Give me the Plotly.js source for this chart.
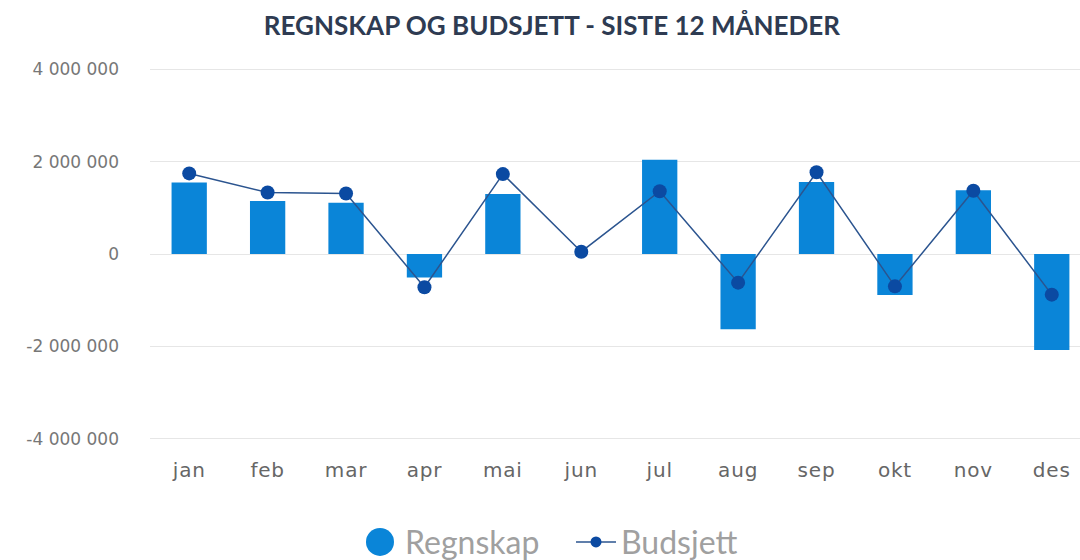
<!DOCTYPE html>
<html>
<head>
<meta charset="utf-8">
<script src="https://cdn.plot.ly/plotly-3.0.1.min.js"></script>
<style>
html,body{margin:0;padding:0;background:#fff;}
#chart{width:1080px;height:560px;}
.xtick text{letter-spacing:0.8px;}
</style>
</head>
<body>
<div id="chart"></div>
<script>
const months = ["jan","feb","mar","apr","mai","jun","jul","aug","sep","okt","nov","des"];
const regnskap = [1550000, 1150000, 1110000, -510000, 1300000, 0, 2040000, -1630000, 1560000, -890000, 1380000, -2080000];
const budsjett = [1745000, 1330000, 1310000, -720000, 1730000, 50000, 1360000, -620000, 1770000, -700000, 1370000, -880000];
const yTickVals = [-4000000, -2000000, 0, 2000000, 4000000];
const yTickText = ["-4 000 000", "-2 000 000", "0", "2 000 000", "4 000 000"];

const barColor = "#0a85d8";
const dotColor = "#0b4aa2";
const lineColor = "#2b548f";

const traces = [
  {
    type: "bar", name: "Regnskap", x: months, y: regnskap,
    marker: {color: barColor}, width: 0.45, showlegend: false, legendgroup: "r",
    hoverinfo: "x+y"
  },
  {
    type: "scatter", mode: "markers", name: "Regnskap", x: [null], y: [null],
    marker: {color: barColor, size: 16, symbol: "circle"}, legendgroup: "r", hoverinfo: "skip"
  },
  {
    type: "scatter", mode: "lines+markers", name: "Budsjett", x: months, y: budsjett,
    line: {color: lineColor, width: 1.5},
    marker: {color: dotColor, size: 14}
  }
];

const layout = {
  width: 1080, height: 560,
  margin: {l: 150, r: 0, t: 60, b: 112},
  paper_bgcolor: "#fff", plot_bgcolor: "#fff",
  title: {
    text: "<b>REGNSKAP OG BUDSJETT - SISTE 12 MÅNEDER</b>",
    font: {family: "Lato, 'Open Sans', sans-serif", size: 26, color: "#2e3b52"},
    x: 0.511, xanchor: "center", y: 0.953, yanchor: "middle", xref: "container", yref: "container"
  },
  xaxis: {
    type: "category", range: [-0.5, 11.36], showgrid: false, zeroline: false, showline: false,
    ticks: "", ticklabelstandoff: 8,
    tickfont: {family: "'DejaVu Sans', sans-serif", size: 20, color: "#666"}
  },
  yaxis: {
    range: [-4200000, 4200000], tickvals: yTickVals, ticktext: yTickText,
    showgrid: true, gridcolor: "#e6e6e6", gridwidth: 1,
    zeroline: true, zerolinecolor: "#e6e6e6", zerolinewidth: 1, showline: false,
    ticks: "", ticklabelstandoff: 30,
    tickfont: {family: "'DejaVu Sans', sans-serif", size: 17, color: "#777"}
  },
  legend: {
    orientation: "h", xref: "container", yref: "container",
    x: 0.3287, xanchor: "left", y: 0.032, yanchor: "middle",
    font: {family: "Lato, sans-serif", size: 32, color: "#a0a0a0"},
    itemwidth: 40, entrywidth: 161, entrywidthmode: "pixels", traceorder: "normal"
  },
  showlegend: true,
  bargap: 0.55
};

Plotly.newPlot("chart", traces, layout, {displayModeBar: false, staticPlot: true}).then(function(gd){
  const items = gd.querySelectorAll(".legend .traces");
  if (items.length) {
    const p = items[0].querySelector(".legendpoints path");
    if (p) p.setAttribute("d", "M14,0A14,14 0 1,1 0,-14A14,14 0 0,1 14,0Z");
  }
  if (items.length > 1) {
    items[1].querySelectorAll(".legendpoints path.scatterpts").forEach(function(p2){
      p2.setAttribute("d", "M5.5,0A5.5,5.5 0 1,1 0,-5.5A5.5,5.5 0 0,1 5.5,0Z");
    });
  }
});
</script>
</body>
</html>
